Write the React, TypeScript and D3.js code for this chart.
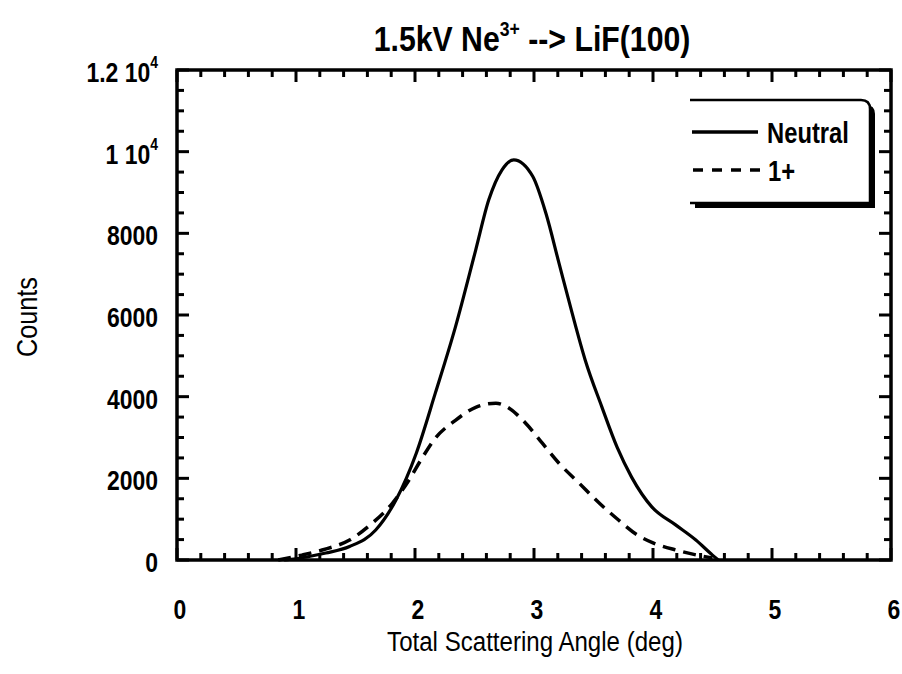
import React from "react";
import * as d3 from "d3";

const neutralAngle = [0.9, 1.0, 1.1, 1.25, 1.45, 1.67, 1.84, 2.01, 2.17, 2.34, 2.51, 2.62, 2.73, 2.83, 2.99, 3.1, 3.21, 3.32, 3.43, 3.57, 3.7, 3.82, 3.99, 4.19, 4.36, 4.5, 4.55];
const neutralCounts = [0, 30, 80, 170, 330, 735, 1470, 2610, 4080, 5710, 7590, 8820, 9550, 9800, 9390, 8490, 7270, 6050, 4900, 3750, 2750, 2030, 1300, 860, 490, 120, 0];

const oneAngle = [0.85, 1.05, 1.22, 1.45, 1.64, 1.81, 1.95, 2.06, 2.17, 2.34, 2.51, 2.68, 2.76, 2.93, 3.07, 3.21, 3.38, 3.55, 3.71, 3.87, 4.0, 4.2, 4.37, 4.5];
const oneCounts = [0, 120, 245, 490, 900, 1390, 1960, 2500, 2980, 3420, 3740, 3840, 3770, 3350, 2860, 2370, 1880, 1390, 980, 610, 420, 240, 120, 50];

const xTickValues = [0, 1, 2, 3, 4, 5, 6];
const yTickValues = [0, 2000, 4000, 6000, 8000, 10000, 12000];
const yTickLabels = ["0", "2000", "4000", "6000", "8000", "1 10|4", "1.2 10|4"];
const legendLabels = ["Neutral", "1+"];

const FONT = "'Liberation Sans', Arial, sans-serif";

type TProps = {
  x: number;
  y: number;
  size: number;
  bold?: boolean;
  anchor?: "start" | "middle" | "end";
  sx?: number;
  rotate?: number;
  children?: React.ReactNode;
};

function T({ x, y, size, bold, anchor = "start", sx = 0.82, rotate = 0, children }: TProps) {
  return (
    <text
      transform={`translate(${x},${y}) rotate(${rotate}) scale(${sx},1)`}
      textAnchor={anchor}
      fontFamily={FONT}
      fontWeight={bold ? "bold" : "normal"}
      fontSize={size}
      fill="#000"
    >
      {children}
    </text>
  );
}

export default function App() {
  const left = 177, right = 891, top = 70, bottom = 560;
  const x = d3.scaleLinear().domain([0, 6]).range([left, right]);
  const y = d3.scaleLinear().domain([0, 12000]).range([bottom, top]);

  const line = d3
    .line<[number, number]>()
    .x((d) => x(d[0]))
    .y((d) => y(d[1]))
    .curve(d3.curveMonotoneX);

  const neutralPts = neutralAngle.map((a, i) => [a, neutralCounts[i]] as [number, number]);
  const onePts = oneAngle.map((a, i) => [a, oneCounts[i]] as [number, number]);

  const xMinor = d3.range(0, 6.0001, 0.2).filter((v) => Math.abs(v - Math.round(v)) > 1e-6);
  const yMinor = d3.range(0, 12001, 500).filter((v) => v % 2000 !== 0);

  const majorLen = 12, minorLen = 7;

  const ticks: React.ReactNode[] = [];
  xTickValues.forEach((v, i) => {
    ticks.push(<line key={"xb" + i} x1={x(v)} x2={x(v)} y1={bottom} y2={bottom - majorLen} />);
    ticks.push(<line key={"xt" + i} x1={x(v)} x2={x(v)} y1={top} y2={top + majorLen} />);
  });
  xMinor.forEach((v, i) => {
    ticks.push(<line key={"xbm" + i} x1={x(v)} x2={x(v)} y1={bottom} y2={bottom - minorLen} />);
    ticks.push(<line key={"xtm" + i} x1={x(v)} x2={x(v)} y1={top} y2={top + minorLen} />);
  });
  yTickValues.forEach((v, i) => {
    ticks.push(<line key={"yl" + i} x1={left} x2={left + majorLen} y1={y(v)} y2={y(v)} />);
    ticks.push(<line key={"yr" + i} x1={right} x2={right - majorLen} y1={y(v)} y2={y(v)} />);
  });
  yMinor.forEach((v, i) => {
    ticks.push(<line key={"ylm" + i} x1={left} x2={left + minorLen} y1={y(v)} y2={y(v)} />);
    ticks.push(<line key={"yrm" + i} x1={right} x2={right - minorLen} y1={y(v)} y2={y(v)} />);
  });

  const lgX0 = 690, lgX1 = 870, lgY0 = 100, lgY1 = 203, r = 9;
  const boxPath = (dx: number, dy: number) =>
    `M${lgX0 + dx},${lgY0 + dy} L${lgX1 - r + dx},${lgY0 + dy} Q${lgX1 + dx},${lgY0 + dy} ${lgX1 + dx},${lgY0 + r + dy} L${lgX1 + dx},${lgY1 + dy} L${lgX0 + dx},${lgY1 + dy} Z`;

  return (
    <svg
      width={902}
      height={674}
      viewBox="0 0 902 674"
      style={{ position: "absolute", left: 0, top: 0, background: "#fff" }}
    >
      <rect x={0} y={0} width={902} height={674} fill="#fff" />
      {/* Title */}
      <T x={532} y={51} size={36} bold anchor="middle" sx={0.84}>
        1.5kV Ne
        <tspan fontSize={21} dy={-15}>3+</tspan>
        <tspan dy={15}> --&gt; LiF(100)</tspan>
      </T>

      {/* Curves */}
      <path d={line(neutralPts) || ""} fill="none" stroke="#000" strokeWidth={3.2} strokeLinejoin="round" />
      <path d={line(onePts) || ""} fill="none" stroke="#000" strokeWidth={3.5} strokeDasharray="13,8" />

      {/* Frame */}
      <g stroke="#000" strokeWidth={3}>
        {ticks}
      </g>
      <rect x={left} y={top} width={right - left} height={bottom - top} fill="none" stroke="#000" strokeWidth={3.5} />

      {/* Y tick labels */}
      {yTickValues.map((v, i) => {
        const parts = yTickLabels[i].split("|");
        return (
          <T key={"yl" + i} x={158} y={y(v) + 12} size={28} bold anchor="end">
            {parts[0]}
            {parts[1] ? (
              <tspan fontSize={17} dy={-14}>{parts[1]}</tspan>
            ) : null}
          </T>
        );
      })}

      {/* X tick labels */}
      {xTickValues.map((v, i) => (
        <T key={"xl" + i} x={x(v) + 3} y={619} size={28} bold anchor="middle">
          {String(v)}
        </T>
      ))}

      {/* Axis titles */}
      <T x={535} y={651} size={28} anchor="middle" sx={0.86}>
        Total Scattering Angle (deg)
      </T>
      <T x={37} y={317} size={29} anchor="middle" sx={0.87} rotate={-90}>
        Counts
      </T>

      {/* Legend */}
      <path d={boxPath(5, 5)} fill="#000" />
      <path d={boxPath(0, 0)} fill="#fff" stroke="none" />
      <path
        d={`M${lgX0},${lgY0} L${lgX1 - r},${lgY0} Q${lgX1},${lgY0} ${lgX1},${lgY0 + r} L${lgX1},${lgY1} L${lgX0},${lgY1}`}
        fill="none"
        stroke="#000"
        strokeWidth={2.5}
      />
      <line x1={692} x2={758} y1={132} y2={132} stroke="#000" strokeWidth={3.5} />
      <T x={767} y={143} size={29} bold>
        {legendLabels[0]}
      </T>
      <line x1={693} x2={762} y1={170} y2={170} stroke="#000" strokeWidth={3.5} strokeDasharray="10,9" />
      <T x={768} y={181} size={29} bold>
        {legendLabels[1]}
      </T>
    </svg>
  );
}
